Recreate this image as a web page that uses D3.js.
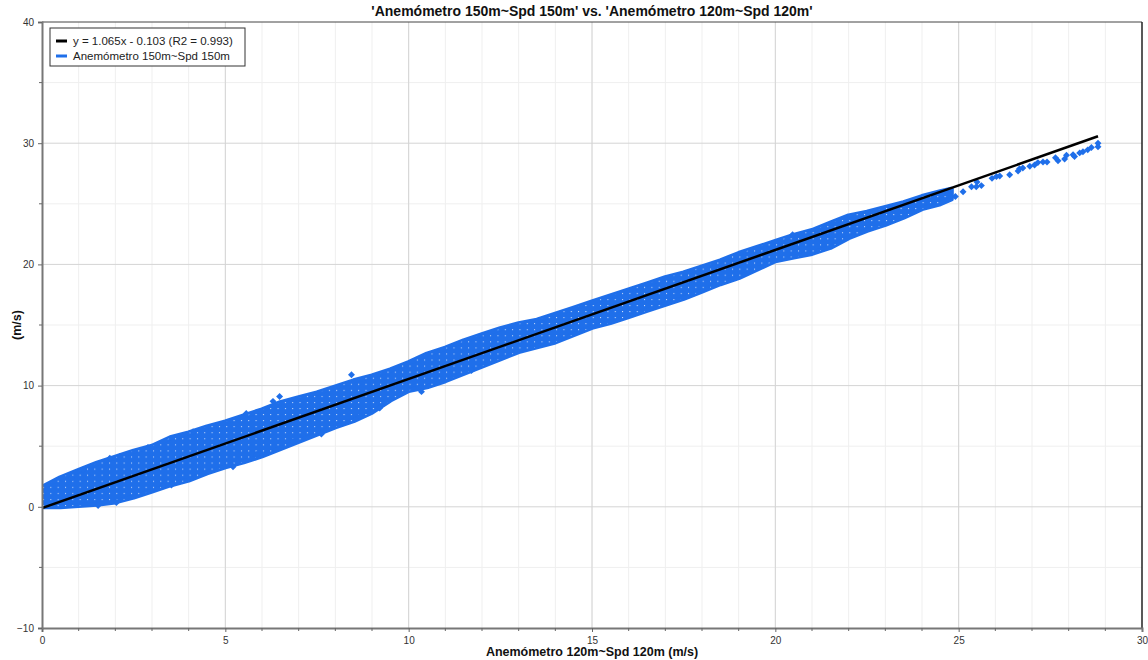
<meta charset="utf-8">
<head>
<script src="https://d3js.org/d3.v7.min.js"></script>
<style>
  body { margin: 0; background: #fff; }
  text { font-family: "Liberation Sans", Arial, sans-serif; }
</style>
</head>
<body>
<div id="container"></div>
<script>

// dense part of the cloud: envelope
var bandX  = [0, 0.5, 1, 1.5, 2, 2.5, 3, 3.5, 4, 4.5, 5, 5.5, 6, 6.5, 7, 7.5, 8, 8.5, 9, 9.5, 10, 10.5, 11, 11.5, 12, 12.5, 13, 13.5, 14, 14.5, 15, 15.5, 16, 16.5, 17, 17.5, 18, 18.5, 19, 19.5, 20, 20.5, 21, 21.5, 22, 22.5, 23, 23.5, 24, 24.5, 24.8];
var bandHi = [1.6, 2.4, 3.0, 3.6, 4.1, 4.6, 5.0, 5.7, 6.1, 6.6, 7.0, 7.5, 8.0, 8.6, 9.0, 9.4, 9.9, 10.4, 10.8, 11.3, 11.9, 12.6, 13.1, 13.7, 14.2, 14.7, 15.1, 15.4, 15.9, 16.4, 16.9, 17.4, 17.9, 18.4, 18.9, 19.3, 19.8, 20.3, 20.9, 21.4, 21.9, 22.4, 22.8, 23.4, 24.0, 24.3, 24.7, 25.1, 25.6, 26.0, 26.2];
var bandLo = [0, 0, 0.1, 0.2, 0.4, 0.8, 1.3, 1.8, 2.2, 2.8, 3.3, 3.7, 4.2, 4.8, 5.4, 6.0, 6.6, 7.1, 7.8, 8.8, 9.6, 9.9, 10.4, 11.0, 11.6, 12.2, 12.8, 13.2, 13.6, 14.2, 14.8, 15.2, 15.7, 16.2, 16.7, 17.2, 17.8, 18.4, 18.9, 19.6, 20.3, 20.6, 20.9, 21.4, 22.2, 22.8, 23.3, 23.9, 24.6, 25.0, 25.4];

// single markers: outliers at the edges and the sparse high end
var ptX = [0.8, 1.12, 1.53, 1.85, 2.03, 2.12, 2.89, 3.3, 3.53, 4.12, 5.21, 5.57, 5.85, 6.3, 6.48, 6.84,
           7.62, 8.44, 8.66, 9.21, 10.35, 11.71, 12.12, 20.47,
           24.91, 25.12, 25.35, 25.48, 25.62, 25.5, 25.91, 26.03, 26.12, 26.39, 26.62, 26.66, 26.75,
           26.94, 27.07, 27.16, 27.30, 27.41, 27.64, 27.71, 27.89, 27.94, 28.12, 28.16, 28.30, 28.39,
           28.52, 28.62, 28.80, 28.80];
var ptY = [2.35, 3.05, 0.1, 4.0, 0.35, 4.15, 4.9, 1.73, 1.8, 6.2, 3.3, 7.7, 4.3, 8.7, 9.1, 5.4,
           6.0, 10.9, 7.45, 8.15, 9.5, 11.25, 14.2, 22.45,
           25.6, 26.0, 26.4, 26.4, 26.5, 26.8, 27.1, 27.25, 27.3, 27.4, 27.7, 27.9, 27.95,
           28.1, 28.2, 28.4, 28.45, 28.45, 28.8, 28.55, 28.7, 29.0, 29.05, 28.9, 29.2, 29.3,
           29.45, 29.65, 30.0, 29.7];

var slope = 1.065, intercept = -0.103;
var fitRange = [0, 28.8];

var xTicks = [0, 5, 10, 15, 20, 25, 30];
var yTicks = [-10, 0, 10, 20, 30, 40];

var title = "'Anemómetro 150m~Spd 150m' vs. 'Anemómetro 120m~Spd 120m'";
var xTitle = "Anemómetro 120m~Spd 120m (m/s)";
var yTitle = "(m/s)";
var legendLabels = ["y = 1.065x - 0.103 (R2 = 0.993)", "Anemómetro 150m~Spd 150m"];

var width = 1148, height = 660;
var pLeft = 42, pRight = 1142, pTop = 22, pBottom = 628;
var blue = "#1f6fea";

var svg = d3.select('#container').append('svg')
  .attr('width', width).attr('height', height);

var x = d3.scaleLinear().domain([0, 30]).range([pLeft, pRight]);
var y = d3.scaleLinear().domain([-10, 40]).range([pBottom, pTop]);

// grid
var g = svg.append('g');
g.selectAll('.vmin').data(d3.range(1, 30)).enter().append('line')
  .attr('x1', d => x(d)).attr('x2', d => x(d)).attr('y1', pTop).attr('y2', pBottom)
  .attr('stroke', '#efefef');
g.selectAll('.hmin').data(d3.range(-5, 40, 10)).enter().append('line')
  .attr('x1', pLeft).attr('x2', pRight).attr('y1', d => y(d)).attr('y2', d => y(d))
  .attr('stroke', '#efefef');
g.selectAll('.vmaj').data(xTicks.slice(1, -1)).enter().append('line')
  .attr('x1', d => x(d)).attr('x2', d => x(d)).attr('y1', pTop).attr('y2', pBottom)
  .attr('stroke', '#d4d4d4');
g.selectAll('.hmaj').data(yTicks.slice(1, -1)).enter().append('line')
  .attr('x1', pLeft).attr('x2', pRight).attr('y1', d => y(d)).attr('y2', d => y(d))
  .attr('stroke', '#d4d4d4');

var defs = svg.append('defs');
defs.append('clipPath').attr('id', 'plot').append('rect')
  .attr('x', pLeft).attr('y', pTop).attr('width', pRight - pLeft).attr('height', pBottom - pTop);

// white dot lattice seen inside the cloud
var pat = defs.append('pattern').attr('id', 'dots')
  .attr('patternUnits', 'userSpaceOnUse')
  .attr('x', pLeft + 1).attr('y', 2)
  .attr('width', 7.33).attr('height', 6.06);
pat.append('rect').attr('width', 1).attr('height', 1).attr('fill', '#fff').attr('opacity', 0.8);

var band = bandX.map((d, i) => [d, bandLo[i], bandHi[i]]);
var area = d3.area().x(d => x(d[0])).y0(d => y(d[1])).y1(d => y(d[2]));

var plot = svg.append('g').attr('clip-path', 'url(#plot)');
plot.append('path').datum(band).attr('d', area)
  .attr('fill', blue).attr('stroke', blue).attr('stroke-width', 5).attr('stroke-linejoin', 'round');
plot.append('path').datum(band).attr('d', area)
  .attr('fill', 'url(#dots)');

plot.selectAll('.pt').data(ptX).enter().append('path')
  .attr('transform', (d, i) => 'translate(' + x(d) + ',' + y(ptY[i]) + ') rotate(45)')
  .attr('d', d3.symbol().type(d3.symbolSquare).size(24))
  .attr('fill', blue);

// regression line
plot.append('line')
  .attr('x1', x(fitRange[0])).attr('y1', y(slope * fitRange[0] + intercept))
  .attr('x2', x(fitRange[1])).attr('y2', y(slope * fitRange[1] + intercept))
  .attr('stroke', '#000').attr('stroke-width', 2.5);

// frame
svg.append('line').attr('x1', pLeft).attr('x2', pRight).attr('y1', pTop).attr('y2', pTop)
  .attr('stroke', '#444');
svg.append('line').attr('x1', pRight).attr('x2', pRight).attr('y1', pTop).attr('y2', pBottom)
  .attr('stroke', '#222').attr('stroke-width', 1.5);

// axes
var xAxis = d3.axisBottom(x).tickValues(xTicks).tickSize(4).tickFormat(d3.format('d'));
var xa = svg.append('g').attr('transform', 'translate(0,' + pBottom + ')').call(xAxis);
xa.selectAll('.tick').filter(d => d === 30).select('line').remove();
xa.append('g').selectAll('line').data(d3.range(1, 30).filter(d => d % 5)).enter().append('line')
  .attr('x1', d => x(d)).attr('x2', d => x(d)).attr('y1', 0).attr('y2', 3).attr('stroke', '#666');

var yAxis = d3.axisLeft(y).tickValues(yTicks).tickSize(4);
var ya = svg.append('g').attr('transform', 'translate(' + pLeft + ',0)').call(yAxis);
ya.append('g').selectAll('line').data(d3.range(-5, 40, 10)).enter().append('line')
  .attr('y1', d => y(d)).attr('y2', d => y(d)).attr('x1', 0).attr('x2', -3).attr('stroke', '#666');

[xa, ya].forEach(a => {
  a.select('.domain').attr('stroke', '#777').attr('stroke-width', 2);
  a.selectAll('.tick line').attr('stroke', '#666');
  a.selectAll('.tick text').attr('fill', '#333').style('font-size', '10px')
    .style('font-family', '"Liberation Sans", Arial, sans-serif');
});
xa.selectAll('.tick text').attr('dy', '0.9em');
ya.selectAll('.tick text').attr('dx', '-1px');

// titles
svg.append('text').attr('x', 592).attr('y', 16).attr('text-anchor', 'middle')
  .style('font-size', '14px').style('font-weight', 'bold').attr('fill', '#111').text(title);
svg.append('text').attr('x', 592).attr('y', 656).attr('text-anchor', 'middle')
  .style('font-size', '12.5px').style('font-weight', 'bold').attr('fill', '#111').text(xTitle);
svg.append('text').attr('transform', 'translate(21,325) rotate(-90)').attr('text-anchor', 'middle')
  .style('font-size', '12.5px').style('font-weight', 'bold').attr('fill', '#111').text(yTitle);

// legend
var lg = svg.append('g').attr('transform', 'translate(50,28)');
lg.append('rect').attr('width', 195).attr('height', 38).attr('fill', '#fff').attr('stroke', '#333');
var colors = ['#000', blue];
legendLabels.forEach((t, i) => {
  lg.append('line').attr('x1', 6).attr('x2', 17).attr('y1', 13 + i * 15).attr('y2', 13 + i * 15)
    .attr('stroke', colors[i]).attr('stroke-width', 3);
  lg.append('text').attr('x', 23).attr('y', 17 + i * 15).style('font-size', '11.5px')
    .attr('fill', '#222').text(t);
});

</script>
</body>
